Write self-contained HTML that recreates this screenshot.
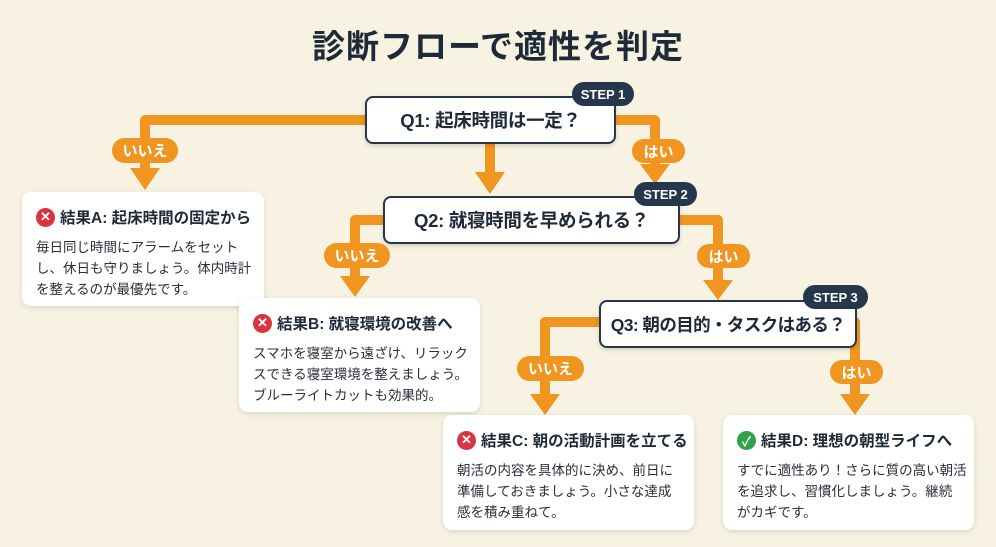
<!DOCTYPE html>
<html><head><meta charset="utf-8">
<style>
*{margin:0;padding:0;box-sizing:border-box}
body{width:996px;height:547px;background:#f8f2e2;position:relative;overflow:hidden;font-family:"Liberation Sans","Noto Sans CJK JP",sans-serif;color:#1f2a38}
.t{position:absolute;left:0;width:996px;top:20px;text-align:center;font-size:33px;font-weight:bold;letter-spacing:1px}
.q{position:absolute;background:#fff;border:2.5px solid #26364b;border-radius:8px;font-weight:bold;font-size:18.5px;display:flex;align-items:center;justify-content:center;box-shadow:0 2px 4px rgba(0,0,0,.15);white-space:nowrap;letter-spacing:-0.3px}
.s{position:absolute;background:#26364b;color:#fff;border-radius:12px;font-weight:bold;font-size:13px;display:flex;align-items:center;justify-content:center}
.p{position:absolute;background:#f0951f;color:#fff;border-radius:13px;font-weight:bold;font-size:15px;display:flex;align-items:center;justify-content:center}
.c{position:absolute;background:#fff;border-radius:9px;box-shadow:0 2px 6px rgba(0,0,0,.12);padding:14px 0 0 14px}
.c h3{font-size:15.5px;font-weight:bold;display:flex;align-items:center;gap:5px;margin-bottom:9px;white-space:nowrap}
.c p{font-size:13.5px;line-height:21px;color:#2a2f38;white-space:nowrap}
.i{width:19px;height:19px;border-radius:50%;color:#fff;font-size:13px;display:inline-flex;align-items:center;justify-content:center;flex:none}
.x{background:#d9343f}.ok{background:#2fa24c}
</style></head><body>
<div class="t">診断フローで適性を判定</div>
<svg width="996" height="547" style="position:absolute;left:0;top:0">
<g fill="none" stroke="#f0951f" stroke-width="10" stroke-linejoin="round">
<path d="M370 120 H145 V172"/>
<path d="M610 120 H655 V168"/>
<path d="M490 140 V172"/>
<path d="M390 220 H355 V278"/>
<path d="M675 220 H718 V282"/>
<path d="M605 322 H545 V396"/>
<path d="M850 322 H855 V396"/>
</g>
<g fill="#f0951f">
<polygon points="130,168 160,168 145,190"/>
<polygon points="640,164 670,164 655,184"/>
<polygon points="475,172 505,172 490,194"/>
<polygon points="340,276 370,276 355,297"/>
<polygon points="703,280 733,280 718,300"/>
<polygon points="530,394 560,394 545,415"/>
<polygon points="840,394 870,394 855,415"/>
</g>
</svg>
<div class="p" style="left:112px;top:138px;width:66px;height:25px">いいえ</div>
<div class="p" style="left:632px;top:139px;width:53px;height:24px">はい</div>
<div class="p" style="left:324px;top:243px;width:66px;height:25px">いいえ</div>
<div class="p" style="left:697px;top:244px;width:53px;height:24px">はい</div>
<div class="p" style="left:517px;top:356px;width:67px;height:25px">いいえ</div>
<div class="p" style="left:830px;top:360px;width:53px;height:24px">はい</div>

<div class="q" style="left:365px;top:96px;width:251px;height:48px">Q1: 起床時間は一定？</div>
<div class="s" style="left:572px;top:82px;width:62px;height:24px">STEP 1</div>
<div class="q" style="left:383px;top:196px;width:297px;height:48px">Q2: 就寝時間を早められる？</div>
<div class="s" style="left:634px;top:182px;width:63px;height:24px">STEP 2</div>
<div class="q" style="left:599px;top:300px;width:258px;height:48px;font-size:17.5px;letter-spacing:-0.6px">Q3: 朝の目的・タスクはある？</div>
<div class="s" style="left:803px;top:285px;width:65px;height:24px">STEP 3</div>

<div class="c" style="left:22px;top:192px;width:242px;height:114px"><h3><span class="i x">✕</span>結果A: 起床時間の固定から</h3><p>毎日同じ時間にアラームをセット<br>し、休日も守りましょう。体内時計<br>を整えるのが最優先です。</p></div>
<div class="c" style="left:239px;top:298px;width:241px;height:114px"><h3><span class="i x">✕</span>結果B: 就寝環境の改善へ</h3><p>スマホを寝室から遠ざけ、リラック<br>スできる寝室環境を整えましょう。<br>ブルーライトカットも効果的。</p></div>
<div class="c" style="left:443px;top:415px;width:251px;height:115px"><h3><span class="i x">✕</span>結果C: 朝の活動計画を立てる</h3><p>朝活の内容を具体的に決め、前日に<br>準備しておきましょう。小さな達成<br>感を積み重ねて。</p></div>
<div class="c" style="left:723px;top:415px;width:251px;height:115px"><h3><span class="i ok">✓</span>結果D: 理想の朝型ライフへ</h3><p>すでに適性あり！さらに質の高い朝活<br>を追求し、習慣化しましょう。継続<br>がカギです。</p></div>
</body></html>
